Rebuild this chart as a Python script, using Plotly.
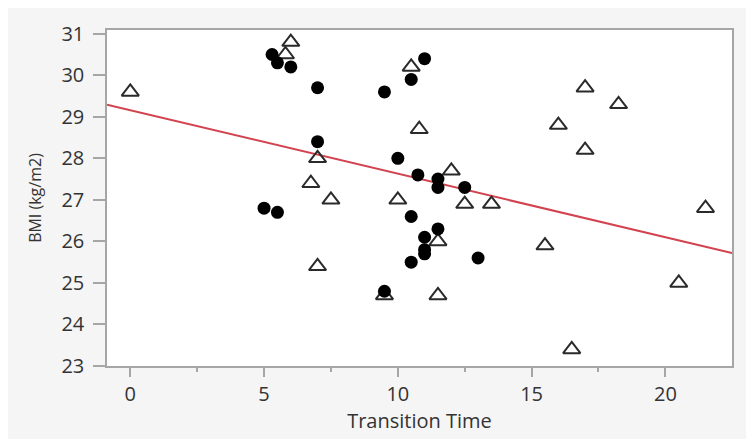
import plotly.graph_objects as go

# Group shown with filled circles
circle_x = [5.3, 5.5, 6.0, 7.0, 11.0, 10.5, 9.5, 7.0, 5.0, 5.5, 10.0, 10.75, 11.5,
            11.5, 12.5, 10.5, 11.5, 11.0, 11.0, 11.0, 10.5, 13.0, 9.5]
circle_y = [30.5, 30.3, 30.2, 29.7, 30.4, 29.9, 29.6, 28.4, 26.8, 26.7, 28.0, 27.6, 27.5,
            27.3, 27.3, 26.6, 26.3, 26.1, 25.8, 25.7, 25.5, 25.6, 24.8]

# Group shown with open triangles
tri_x = [0.0, 6.0, 5.8, 10.5, 10.8, 7.0, 6.75, 7.5, 12.0, 10.0, 12.5, 13.5, 11.5,
         9.5, 11.5, 7.0, 17.0, 18.25, 16.0, 17.0, 21.5, 15.5, 20.5, 16.5]
tri_y = [29.6, 30.8, 30.5, 30.2, 28.7, 28.0, 27.4, 27.0, 27.7, 27.0, 26.9, 26.9, 26.0,
         24.7, 24.7, 25.4, 29.7, 29.3, 28.8, 28.2, 26.8, 25.9, 25.0, 23.4]

# Fitted regression line coefficients
fit_intercept = 29.16
fit_slope = -0.153

x_range = [-0.87, 22.49]
y_range = [23.0, 31.09]
x_ticks = [0, 5, 10, 15, 20]
y_ticks = [23, 24, 25, 26, 27, 28, 29, 30, 31]

fit_x = x_range
fit_y = [fit_intercept + fit_slope * v for v in fit_x]

fig = go.Figure()
fig.add_trace(go.Scatter(x=fit_x, y=fit_y, mode="lines",
                         line=dict(color="#d2424f", width=2), hoverinfo="skip"))
fig.add_trace(go.Scatter(x=tri_x, y=tri_y, mode="markers",
                         marker=dict(symbol="triangle-up-open", size=15,
                                     color="#2a2a2a", line=dict(width=2, color="#2a2a2a"))))
fig.add_trace(go.Scatter(x=circle_x, y=circle_y, mode="markers",
                         marker=dict(symbol="circle", size=13, color="black",
                                     line=dict(width=0))))

grey = "#a6a6a6"
font_family = "Open Sans, Noto Sans, sans-serif"

fig.update_layout(
    width=746, height=431,
    margin=dict(l=99, r=22, t=12, b=71),
    paper_bgcolor="#f5f5f5",
    plot_bgcolor="white",
    showlegend=False,
    font=dict(family=font_family, color="#333333"),
    xaxis=dict(range=x_range, tickvals=x_ticks, showgrid=False, zeroline=False,
               showline=True, linecolor=grey, linewidth=1.5, mirror=True,
               ticks="outside", ticklen=9, tickcolor=grey, tickwidth=1.5,
               minor=dict(dtick=2.5, tick0=0, ticks="outside", ticklen=4,
                          tickcolor=grey, tickwidth=1.5, showgrid=False),
               tickfont=dict(size=20, color="#333333"),
               title=dict(text="Transition Time", font=dict(size=20, color="#333333"),
                          standoff=6)),
    yaxis=dict(range=y_range, tickvals=y_ticks, showgrid=False, zeroline=False,
               showline=True, linecolor=grey, linewidth=1.5, mirror=True,
               ticks="outside", ticklen=12, tickcolor=grey, tickwidth=1.5,
               ticklabelstandoff=5,
               tickfont=dict(size=20, color="#333333"),
               title=dict(text="BMI (kg/m2)", font=dict(size=16, color="#333333"),
                          standoff=16)),
)

fig.write_html("out.html")
